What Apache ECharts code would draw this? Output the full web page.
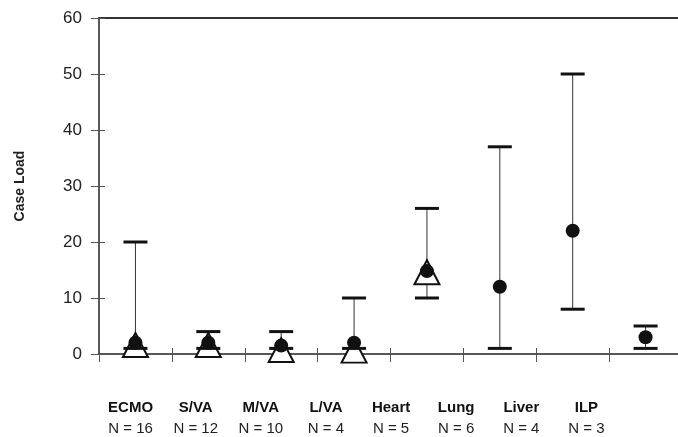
<!DOCTYPE html>
<html>
<head>
<meta charset="utf-8">
<script src="https://cdn.jsdelivr.net/npm/echarts@6/dist/echarts.min.js"></script>
<style>html,body{margin:0;padding:0;background:#fff}#c{width:678px;height:437px}</style>
</head>
<body>
<div id="c"></div>
<script>
const categories = ['ECMO', 'S/VA', 'M/VA', 'L/VA', 'Heart', 'Lung', 'Liver', 'ILP'];
const nCounts = [16, 12, 10, 4, 5, 6, 4, 3];
const lowValues = [1, 1, 1, 1, 10, 1, 8, 1];
const highValues = [20, 4, 4, 10, 26, 37, 50, 5];
const meanValues = [2, 2, 1.5, 2, 14.8, 12, 22, 3];
const medianValues = [1.6, 1.6, 0.7, 0.6, 14.6, '-', '-', '-'];
const yTicks = [0, 10, 20, 30, 40, 50, 60];

const FONT = 'Liberation Sans, Arial, sans-serif';
const rangeData = categories.map((c, i) => [i, lowValues[i], highValues[i]]);

const chart = echarts.init(document.getElementById('c'), null, {renderer: 'canvas'});

function stemItem(params, api) {
  const x = api.value(0);
  const p1 = api.coord([x, api.value(1)]);
  const p2 = api.coord([x, api.value(2)]);
  return {type: 'line', shape: {x1: p1[0], y1: p1[1], x2: p2[0], y2: p2[1]},
          style: {stroke: '#333', lineWidth: 1}};
}
function capItem(params, api) {
  const x = api.value(0);
  const p1 = api.coord([x, api.value(1)]);
  const p2 = api.coord([x, api.value(2)]);
  const hw = 12;
  return {type: 'group', children: [
    {type: 'line', shape: {x1: p1[0] - hw, y1: p1[1], x2: p1[0] + hw, y2: p1[1]}, style: {stroke: '#111', lineWidth: 3}},
    {type: 'line', shape: {x1: p2[0] - hw, y1: p2[1], x2: p2[0] + hw, y2: p2[1]}, style: {stroke: '#111', lineWidth: 3}}
  ]};
}

const option = {
  animation: false,
  backgroundColor: '#fff',
  grid: [
    {left: 99, right: -4, top: 18, bottom: 83, containLabel: false, outerBoundsMode: 'none'},
    {left: 98, width: 521, top: 18, bottom: 83, containLabel: false, outerBoundsMode: 'none'}
  ],
  xAxis: [
    {type: 'category', gridIndex: 0, data: categories, position: 'bottom',
     axisLine: {show: true, lineStyle: {color: '#222', width: 1.5}},
     axisTick: {show: true, inside: false, length: 8, lineStyle: {color: '#555', width: 1}},
     axisLabel: {show: false}},
    {type: 'category', gridIndex: 0, data: categories, position: 'bottom',
     axisLine: {show: false},
     axisTick: {show: true, inside: true, length: 6, lineStyle: {color: '#555', width: 1}},
     axisLabel: {show: false}},
    {type: 'category', gridIndex: 0, data: categories, position: 'top',
     axisLine: {show: true, lineStyle: {color: '#333', width: 2}},
     axisTick: {show: false}, axisLabel: {show: false}},
    {type: 'category', gridIndex: 1, data: categories, position: 'bottom',
     axisLine: {show: false}, axisTick: {show: false},
     axisLabel: {
       show: true, margin: 43, interval: 0,
       formatter: (v, i) => '{n|' + v + '}\n{c|N = ' + nCounts[i] + '}',
       rich: {
         n: {fontFamily: FONT, fontSize: 15, fontWeight: 'bold', color: '#111', lineHeight: 21, align: 'center'},
         c: {fontFamily: FONT, fontSize: 15, color: '#222', lineHeight: 21, align: 'center'}
       }
     }}
  ],
  yAxis: [
    {type: 'value', gridIndex: 0, min: yTicks[0], max: yTicks[yTicks.length - 1], interval: 10,
     name: 'Case Load', nameLocation: 'middle', nameGap: 72, nameRotate: 90,
     nameTextStyle: {fontFamily: FONT, fontSize: 14, fontWeight: 'bold', color: '#222'},
     axisLine: {show: true, lineStyle: {color: '#222', width: 1.5}},
     axisTick: {show: true, inside: false, length: 8, lineStyle: {color: '#555', width: 1}},
     axisLabel: {show: true, margin: 17, fontFamily: FONT, fontSize: 17, color: '#222'},
     splitLine: {show: false}},
    {type: 'value', gridIndex: 0, min: yTicks[0], max: yTicks[yTicks.length - 1], interval: 10,
     position: 'left',
     axisLine: {show: false},
     axisTick: {show: true, inside: true, length: 6, lineStyle: {color: '#555', width: 1}},
     axisLabel: {show: false}, splitLine: {show: false}},
    {type: 'value', gridIndex: 1, min: 0, max: 60, show: false}
  ],
  series: [
    {type: 'custom', xAxisIndex: 0, yAxisIndex: 0, renderItem: stemItem, data: rangeData,
     encode: {x: 0, y: [1, 2]}, z: 1, clip: false},
    {type: 'scatter', xAxisIndex: 0, yAxisIndex: 0, data: medianValues, symbol: 'triangle',
     symbolSize: [25, 24], itemStyle: {color: '#fff', borderColor: '#111', borderWidth: 2, opacity: 1},
     z: 2, clip: false},
    {type: 'custom', xAxisIndex: 0, yAxisIndex: 0, renderItem: capItem, data: rangeData,
     encode: {x: 0, y: [1, 2]}, z: 3, clip: false},
    {type: 'scatter', xAxisIndex: 0, yAxisIndex: 0, data: meanValues, symbol: 'circle',
     symbolSize: 14, itemStyle: {color: '#111', opacity: 1}, z: 4, clip: false}
  ]
};
chart.setOption(option);
</script>
</body>
</html>
